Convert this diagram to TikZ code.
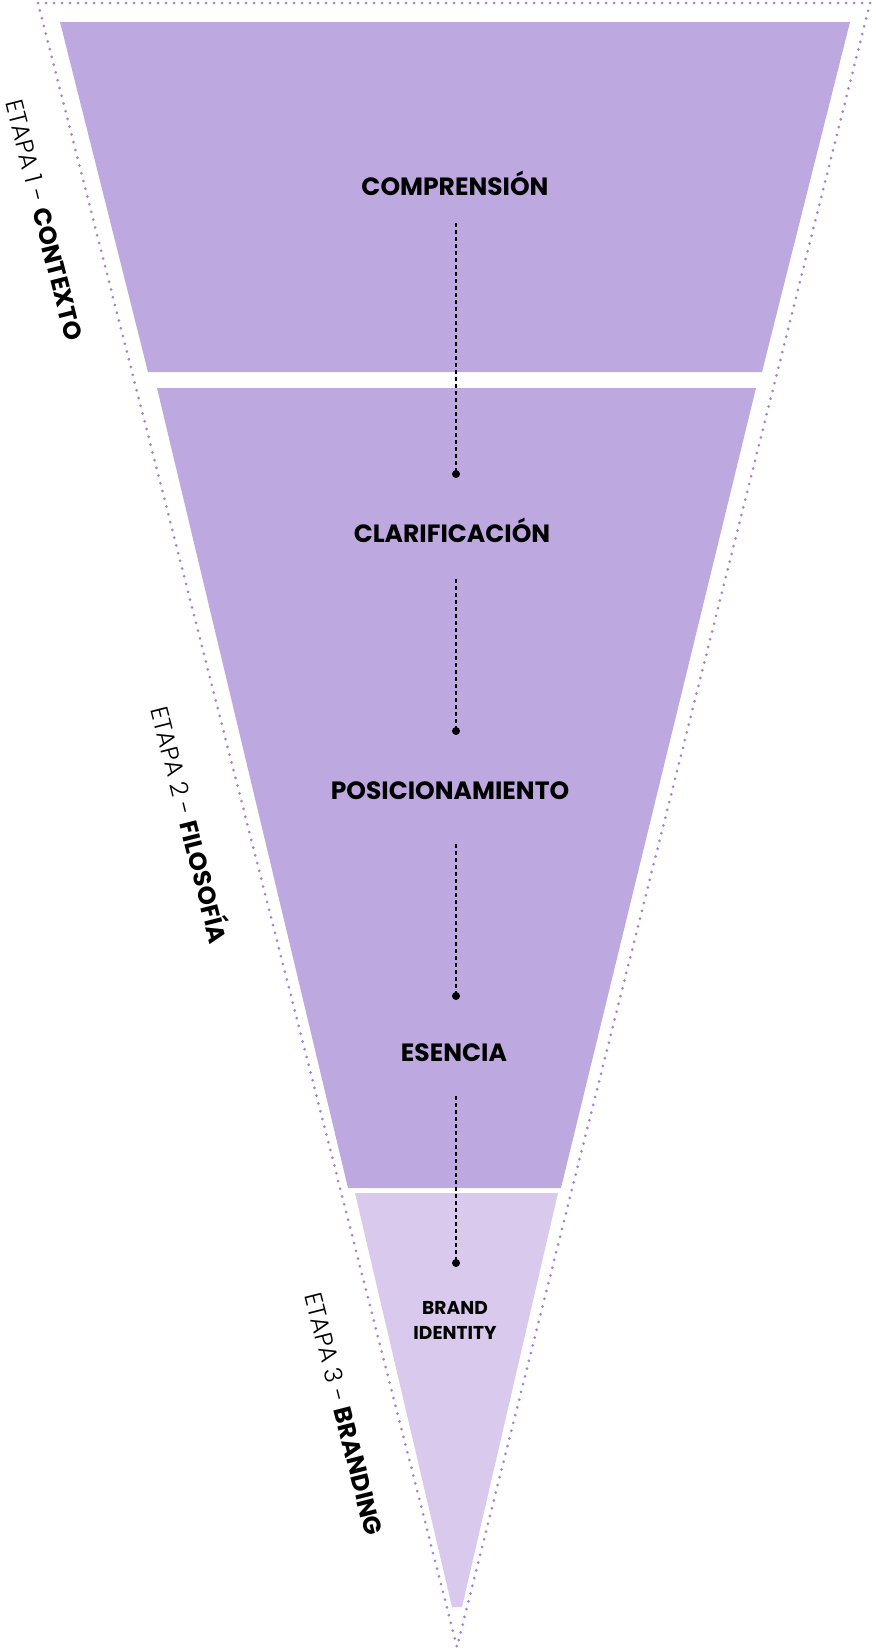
\documentclass[tikz,border=0pt]{standalone}
\usepackage{fontspec}
\setmainfont{Poppins}
\newfontfamily\lightfont{Poppins Light}
\usetikzlibrary{calc}

\definecolor{funnel}{RGB}{189,168,224}
\definecolor{funnellight}{RGB}{216,201,237}
\definecolor{dots}{RGB}{160,130,216}

\tikzset{
    band/.style={fill=funnel, draw=none},
    outline/.style={draw=dots, line width=1.5pt, line cap=round, dash pattern=on 0pt off 4pt},
    stagetext/.style={font=\bfseries\fontsize{12.5}{14}\selectfont, text=black, inner sep=1pt},
    link/.style={draw=black, line width=1pt, dash pattern=on 2pt off 1.5pt},
    stagelabel/.style={rotate=-75.7, font=\fontsize{12.3}{14}\selectfont, inner sep=1pt}
}

\begin{document}
\begin{tikzpicture}[x=0.5pt, y=-0.5pt]
    \useasboundingbox (0,0) rectangle (876,1650);

    % outer dotted triangle
        \coordinate (TL) at (38,3);
        \coordinate (TR) at (870,3);
        \coordinate (T) at (457,1647);
        \draw[outline] (TL) -- (TR) -- (T) -- cycle;

    % funnel bands
        \fill[band] (60,22) -- (850,22) -- (762,372) -- (148,372) -- cycle;
        \fill[band] (157,388) -- (756,388) -- (561,1188) -- (348,1188) -- cycle;
        \fill[band, fill=funnellight] (355,1193) -- (558,1193) -- (462,1607) -- (452,1607) -- cycle;

    % stage names
        \node[stagetext] (comp) at (455,183) {COMPRENSIÓN};
        \node[stagetext] (clar) at (452,530) {CLARIFICACIÓN};
        \node[stagetext] (posi) at (450,791) {POSICIONAMIENTO};
        \node[stagetext] (esen) at (454,1053) {ESENCIA};
        \node[stagetext, font=\bfseries\fontsize{9.3}{12.5}\selectfont, align=center] (brand) at (455,1320) {BRAND\\IDENTITY};

    % dashed connectors ending in a dot
        \coordinate (s1) at (456,223);
        \coordinate (d1) at (456,474);
        \coordinate (s2) at (456,579);
        \coordinate (d2) at (456,731);
        \coordinate (s3) at (456,844);
        \coordinate (d3) at (456,996);
        \coordinate (s4) at (456,1096);
        \coordinate (d4) at (456,1263);
        \draw[link] (s1) -- (d1);
        \draw[link] (s2) -- (d2);
        \draw[link] (s3) -- (d3);
        \draw[link] (s4) -- (d4);
        \fill (d1) circle (2pt);
        \fill (d2) circle (2pt);
        \fill (d3) circle (2pt);
        \fill (d4) circle (2pt);

    % stage labels along the left side
        \node[stagelabel] (etapa1) at (44,220) {{\lightfont ETAPA 1 -} \textbf{CONTEXTO}};
        \node[stagelabel] (etapa2) at (192,824) {{\lightfont ETAPA 2 -} \textbf{FILOSOFÍA}};
        \node[stagelabel] (etapa3) at (344,1414) {{\lightfont ETAPA 3 -} \textbf{BRANDING}};

\end{tikzpicture}
\end{document}
